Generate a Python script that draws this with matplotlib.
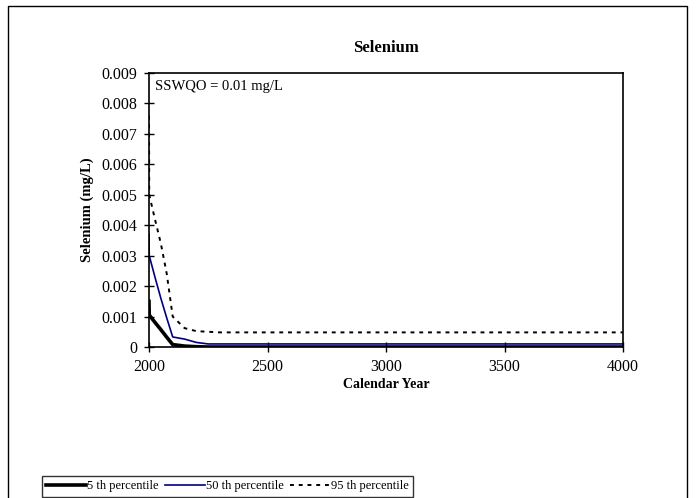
import matplotlib
matplotlib.use("Agg")
import matplotlib.pyplot as plt
from matplotlib.patches import Rectangle

plt.rcParams['font.family'] = ['Liberation Serif', 'DejaVu Serif']

# model output
years = [2000, 2001, 2025, 2050, 2075, 2100, 2150, 2200, 2250, 2300, 2500, 3000, 3500, 4000]
p5 = [0.0015, 0.00105, 0.00081, 0.00057, 0.00032, 0.00008, 0.00003, 0.00001, 0, 0, 0, 0, 0, 0]
p50 = [0.0037, 0.0030, 0.0023, 0.0016, 0.00095, 0.00033, 0.00026, 0.00015, 0.0001, 0.0001,
       0.0001, 0.0001, 0.0001, 0.0001]
p95 = [0.0076, 0.0050, 0.0042, 0.0034, 0.0024, 0.0010, 0.00062, 0.00052, 0.0005, 0.00048,
       0.00048, 0.00048, 0.00048, 0.00048]
labels = ["5 th percentile", "50 th percentile", "95 th percentile"]
xticks = [2000, 2500, 3000, 3500, 4000]
yticks = [0, 0.001, 0.002, 0.003, 0.004, 0.005, 0.006, 0.007, 0.008, 0.009]

W, H = 696, 498
fig = plt.figure(figsize=(W / 100, H / 100), dpi=100)

# outer chart border (runs off the bottom of the picture)
fig.patches.append(Rectangle((8 / W, -0.1), 679 / W, 1.1 - 6 / H, transform=fig.transFigure,
                             fill=False, edgecolor='black', linewidth=1.0))

ax = fig.add_axes([149 / W, 1 - 347 / H, 474 / W, 274 / H])
ax.plot(years, p5, color='black', lw=2.6, label=labels[0])
ax.plot(years, p50, color='#000080', lw=1.2, label=labels[1])
ax.plot(years, p95, color='black', lw=1.4, dashes=(2, 2.5), label=labels[2])

ax.set_xlim(2000, 4000)
ax.set_ylim(0, 0.009)
ax.set_xticks(xticks)
ax.set_xticklabels([str(x) for x in xticks])
ax.set_yticks(yticks)
ax.set_yticklabels(['0'] + ['%.3f' % v for v in yticks[1:]])
ax.tick_params(direction='inout', length=7, width=1, labelsize=11.5, pad=5)
for s in ax.spines.values():
    s.set_linewidth(1.2)

ax.set_title("Selenium", fontsize=12, fontweight='bold', pad=15)
ax.set_xlabel("Calendar Year", fontsize=10, fontweight='bold', labelpad=2)
ax.set_ylabel("Selenium (mg/L)", fontsize=10.5, fontweight='bold', labelpad=5)
ax.text(0.012, 0.975, "SSWQO = 0.01 mg/L", transform=ax.transAxes, fontsize=10.5, va='top')

leg = fig.legend(loc='upper left', bbox_to_anchor=(42 / W, 1 - 476 / H), ncol=3, fontsize=9,
                 frameon=True, fancybox=False, handlelength=3.2, handletextpad=0.08,
                 columnspacing=0.5, borderpad=0.35, borderaxespad=0)
leg.get_frame().set_edgecolor('black')
leg.get_frame().set_linewidth(1.0)

fig.savefig("out.png", dpi=100)
